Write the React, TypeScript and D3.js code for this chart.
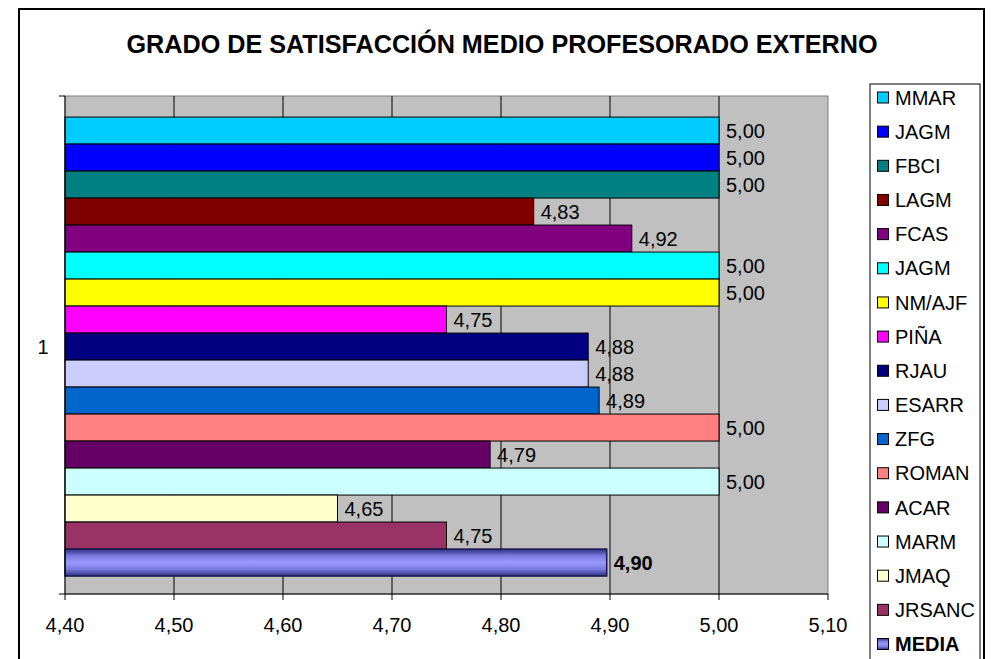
import * as d3 from "d3";

const categories = ["1"];
const seriesNames = ["MMAR", "JAGM", "FBCI", "LAGM", "FCAS", "JAGM", "NM/AJF", "PIÑA", "RJAU", "ESARR", "ZFG", "ROMAN", "ACAR", "MARM", "JMAQ", "JRSANC", "MEDIA"];
const seriesValues = [5.0, 5.0, 5.0, 4.83, 4.92, 5.0, 5.0, 4.75, 4.88, 4.88, 4.89, 5.0, 4.79, 5.0, 4.65, 4.75, 4.897];
const seriesColors = ["#00CCFF", "#0000FF", "#008080", "#800000", "#800080", "#00FFFF", "#FFFF00", "#FF00FF", "#000080", "#CCCCFF", "#0066CC", "#FF8080", "#660066", "#CCFFFF", "#FFFFCC", "#993366", "url(#mediaGrad)"];
const xTicks = [4.4, 4.5, 4.6, 4.7, 4.8, 4.9, 5.0, 5.1];

const W = 993;
const H = 659;
const margin = { top: 96, right: 165, bottom: 65, left: 65 };
const font = "Arial, 'Liberation Sans', sans-serif";
const fs = 20;

const fmt = (v: number) => v.toFixed(2).replace(".", ",");

export default function App() {
  const x = d3.scaleLinear().domain([4.4, 5.1]).range([margin.left, W - margin.right]);
  const yCat = d3
    .scaleBand()
    .domain(categories)
    .range([margin.top, H - margin.bottom])
    .paddingInner(0)
    .paddingOuter(0.0425)
    .align(0.54);
  const ySer = d3
    .scaleBand()
    .domain(seriesNames.map((_, i) => String(i)))
    .range([yCat("1")!, yCat("1")! + yCat.bandwidth()])
    .padding(0);
  const legendY = d3
    .scalePoint()
    .domain(seriesNames.map((_, i) => String(i)))
    .range([97.5, 644]);

  const top = margin.top;
  const bottom = H - margin.bottom;
  const left = margin.left;
  const right = W - margin.right;
  const isMedia = (i: number) => i === seriesNames.length - 1;

  return (
    <svg
      width={W}
      height={H}
      style={{ position: "absolute", left: 0, top: 0, background: "#fff" }}
      fontFamily={font}
    >
      <defs>
        <linearGradient id="mediaGrad" x1="0" y1="0" x2="0" y2="1">
          <stop offset="0" stopColor="#2c2c80" />
          <stop offset="0.25" stopColor="#7a7ae0" />
          <stop offset="0.5" stopColor="#9999FF" />
          <stop offset="0.75" stopColor="#7a7ae0" />
          <stop offset="1" stopColor="#2c2c80" />
        </linearGradient>
      </defs>

      {/* chart border */}
      <rect x={19} y={9} width={965} height={700} fill="#fff" stroke="#000" strokeWidth={2} />

      <text
        x={502}
        y={52.5}
        textAnchor="middle"
        fontSize={26}
        fontWeight="bold"
        textLength={751}
        lengthAdjust="spacingAndGlyphs"
      >
        GRADO DE SATISFACCIÓN MEDIO PROFESORADO EXTERNO
      </text>

      {/* plot area */}
      <rect x={left} y={top} width={right - left} height={bottom - top} fill="#C0C0C0" stroke="#808080" />
      {xTicks.slice(1, -1).map((t) => (
        <line key={t} x1={x(t)} x2={x(t)} y1={top} y2={bottom} stroke="#000" />
      ))}

      {/* bars */}
      {seriesValues.map((v, i) => (
        <rect
          key={i}
          x={x(4.4)}
          y={ySer(String(i))!}
          width={x(v) - x(4.4)}
          height={ySer.bandwidth()}
          fill={seriesColors[i]}
          stroke={isMedia(i) ? "#1a1a4d" : "#000"}
          strokeWidth={isMedia(i) ? 1.5 : 1}
        />
      ))}
      {seriesValues.map((v, i) => (
        <text
          key={i}
          x={x(v) + 7}
          y={ySer(String(i))! + ySer.bandwidth() / 2}
          dy="0.36em"
          fontSize={fs}
          fontWeight={isMedia(i) ? "bold" : "normal"}
        >
          {fmt(v)}
        </text>
      ))}

      {/* axes */}
      <line x1={left} x2={left} y1={top} y2={bottom} stroke="#000" />
      <line x1={left - 6} x2={left} y1={top} y2={top} stroke="#000" />
      <line x1={left - 6} x2={left} y1={bottom} y2={bottom} stroke="#000" />
      <line x1={left} x2={right} y1={bottom} y2={bottom} stroke="#000" />
      {xTicks.map((t) => (
        <g key={t}>
          <line x1={x(t)} x2={x(t)} y1={bottom} y2={bottom + 6} stroke="#000" />
          <text x={x(t)} y={bottom + 38} textAnchor="middle" fontSize={fs}>
            {fmt(t)}
          </text>
        </g>
      ))}
      <text x={43} y={yCat("1")! + yCat.bandwidth() / 2} dy="0.36em" textAnchor="middle" fontSize={fs}>
        {categories[0]}
      </text>

      {/* legend */}
      <rect x={870} y={84} width={110} height={640} fill="#fff" stroke="#000" />
      {seriesNames.map((name, i) => {
        const cy = legendY(String(i))!;
        return (
          <g key={i}>
            <rect x={877.5} y={cy - 5.5} width={11} height={11} fill={seriesColors[i]} stroke="#000" />
            <text x={895} y={cy} dy="0.36em" fontSize={fs} fontWeight={isMedia(i) ? "bold" : "normal"}>
              {name}
            </text>
          </g>
        );
      })}
    </svg>
  );
}
